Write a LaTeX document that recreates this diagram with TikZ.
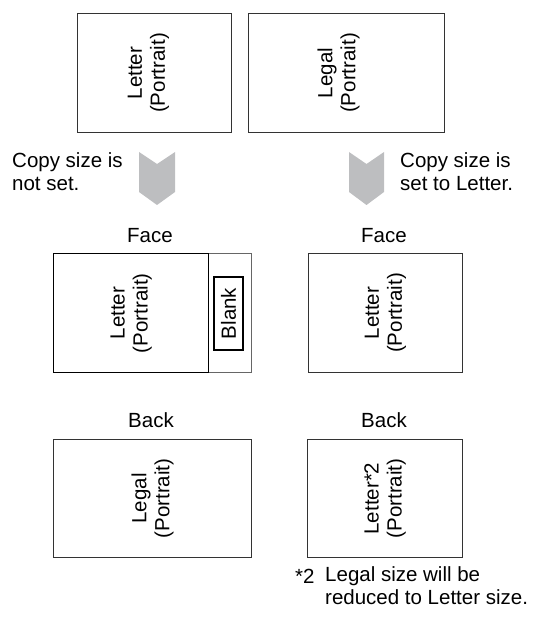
\documentclass[tikz,border=0pt]{standalone}
\usepackage{fontspec}
\setmainfont{Liberation Sans}
\definecolor{chevgray}{HTML}{BDBEC0}
\definecolor{boxline}{HTML}{333333}
\begin{document}
\begin{tikzpicture}[x=1pt,y=-1pt,
  paper/.style={draw=boxline, line width=1pt, inner sep=0pt, anchor=north west},
  lbl/.style={font=\fontsize{20.5}{23}\selectfont, inner sep=0pt},
  ptext/.style={lbl, rotate=90, align=center},
  chev/.style={fill=chevgray}]
\useasboundingbox (0,0) rectangle (536,617);
% top boxes
\node[paper, minimum width=154pt, minimum height=119pt] (tl) at (77,13) {};
\node[ptext] (tlt) at ([xshift=-6pt]tl.center) {Letter\\(Portrait)};
\node[paper, minimum width=196pt, minimum height=119pt] (tr) at (248,13) {};
\node[ptext] (trt) at ([xshift=-8pt]tr.center) {Legal\\(Portrait)};
% chevrons
\fill[chev] (139,152) -- (157,164) -- (175,152) -- (175,192) -- (157,205) -- (139,192) -- cycle;
\fill[chev] (349,152) -- (366.5,164) -- (384,152) -- (384,192) -- (366.5,205) -- (349,192) -- cycle;
% conditions
\node[lbl, align=left, anchor=base west] (c1) at (12,191) {Copy size is\\not set.};
\node[lbl, align=left, anchor=base west] (c2) at (400,191) {Copy size is\\set to Letter.};
% face labels
\node[lbl] (f1) at (150,236) {Face};
\node[lbl] (f2) at (384,236) {Face};
% face left: letter + blank strip
\node[paper, draw=black!60, minimum width=198pt, minimum height=119pt] (fls) at (53,253) {};
\node[paper, draw=black, line width=1.3pt, minimum width=155pt, minimum height=119pt] (fl) at (53,253) {};
\node[ptext] (flt) at (fl.center) {Letter\\(Portrait)};
\node[lbl, draw=black, line width=1.5pt, rotate=90, minimum width=73pt, minimum height=29pt] (blank) at (228.5,313.5) {Blank};
% face right
\node[paper, minimum width=154pt, minimum height=119pt] (fr) at (308,253) {};
\node[ptext] (frt) at (fr.center) {Letter\\(Portrait)};
% back labels
\node[lbl] (b1) at (151,420) {Back};
\node[lbl] (b2) at (384,420) {Back};
% back boxes
\node[paper, minimum width=198pt, minimum height=118pt] (bl) at (53,439) {};
\node[ptext] (blt) at (bl.center) {Legal\\(Portrait)};
\node[paper, minimum width=155pt, minimum height=118pt] (br) at (307,439) {};
\node[ptext] (brt) at (br.center) {Letter*2\\(Portrait)};
% footnote
\node[lbl, anchor=base west] (fnm) at (295,583) {*2};
\node[lbl, align=left, anchor=base west] (fn) at (325,604) {Legal size will be\\reduced to Letter size.};
\end{tikzpicture}
\end{document}
